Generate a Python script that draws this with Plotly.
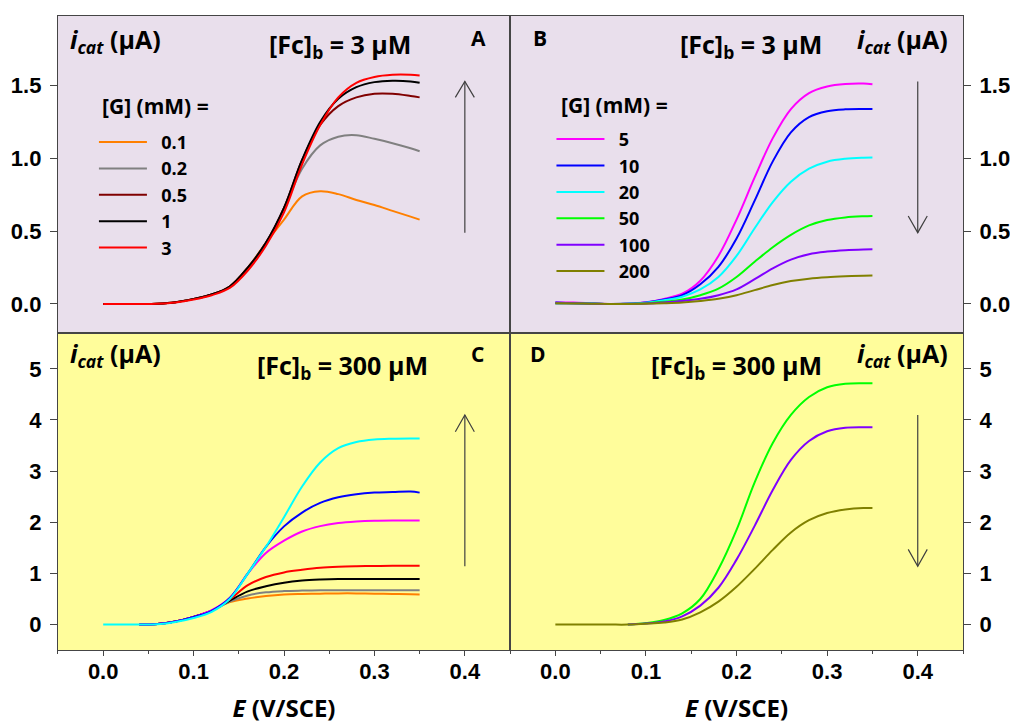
import plotly.graph_objects as go

# ---------------- data ----------------
E = [0.00, 0.02, 0.04, 0.06, 0.08, 0.10, 0.12, 0.14, 0.16, 0.18,
     0.20, 0.22, 0.24, 0.26, 0.28, 0.30, 0.32, 0.34, 0.35]

# Panel A : [Fc]b = 3 uM, [G] = 0.1 ... 3 mM
A_names = ["0.1", "0.2", "0.5", "1", "3"]
A_01 = [0, 0, 0, 0.002, 0.012, 0.035, 0.065, 0.12, 0.25, 0.42, 0.58, 0.74, 0.775, 0.755, 0.715, 0.68, 0.64, 0.60, 0.58]
A_02 = [0, 0, 0, 0.002, 0.012, 0.035, 0.065, 0.12, 0.25, 0.42, 0.66, 0.93, 1.09, 1.15, 1.16, 1.135, 1.105, 1.07, 1.05]
A_05 = [0, 0, 0, 0.002, 0.012, 0.035, 0.065, 0.12, 0.25, 0.42, 0.66, 0.99, 1.23, 1.36, 1.42, 1.445, 1.445, 1.43, 1.42]
A_1 = [0, 0, 0, 0.002, 0.012, 0.035, 0.065, 0.12, 0.25, 0.42, 0.66, 0.99, 1.25, 1.41, 1.49, 1.525, 1.535, 1.53, 1.52]
A_3 = [0, 0, 0, 0.002, 0.010, 0.030, 0.060, 0.11, 0.23, 0.40, 0.63, 0.96, 1.23, 1.42, 1.52, 1.56, 1.575, 1.575, 1.57]
A_colors = ["#FF8000", "#808080", "#800000", "#000000", "#FF0000"]

# Panel B : [Fc]b = 3 uM, [G] = 5 ... 200 mM
B_names = ["5", "10", "20", "50", "100", "200"]
B_5 = [0.01, 0.01, 0.005, 0.0, 0.002, 0.012, 0.035, 0.07, 0.16, 0.33, 0.58, 0.87, 1.14, 1.34, 1.45, 1.495, 1.512, 1.515, 1.51]
B_10 = [0.01, 0.005, 0.003, 0.0, 0.002, 0.01, 0.03, 0.06, 0.135, 0.255, 0.45, 0.71, 0.98, 1.18, 1.285, 1.325, 1.338, 1.34, 1.34]
B_20 = [0.005, 0.005, 0.003, 0.0, 0.002, 0.008, 0.025, 0.05, 0.10, 0.185, 0.33, 0.52, 0.70, 0.84, 0.93, 0.978, 0.998, 1.005, 1.006]
B_50 = [0.005, 0.005, 0.002, 0.0, 0.001, 0.005, 0.015, 0.03, 0.06, 0.105, 0.185, 0.29, 0.39, 0.475, 0.54, 0.577, 0.595, 0.603, 0.605]
B_100 = [0.005, 0.005, 0.002, 0.0, 0.001, 0.003, 0.01, 0.02, 0.035, 0.06, 0.10, 0.17, 0.245, 0.305, 0.342, 0.36, 0.37, 0.375, 0.376]
B_200 = [0.005, 0.003, 0.002, 0.0, 0.0, 0.002, 0.005, 0.01, 0.02, 0.035, 0.06, 0.095, 0.13, 0.157, 0.174, 0.184, 0.19, 0.194, 0.195]
B_colors = ["#FF00FF", "#0000FF", "#00FFFF", "#00FF00", "#8000FF", "#808000"]

# Panel C : [Fc]b = 300 uM, [G] = 0.1 ... 20 mM
C_names = ["0.1", "0.2", "1", "3", "5", "10", "20"]
C_01 = [None, None, 0, 0.01, 0.06, 0.15, 0.27, 0.44, 0.51, 0.56, 0.59, 0.60, 0.605, 0.61, 0.61, 0.605, 0.60, 0.595, 0.59]
C_02 = [None, None, 0, 0.01, 0.06, 0.15, 0.27, 0.45, 0.57, 0.63, 0.655, 0.665, 0.67, 0.67, 0.67, 0.67, 0.67, 0.67, 0.67]
C_1 = [None, None, 0, 0.01, 0.06, 0.15, 0.27, 0.47, 0.65, 0.75, 0.82, 0.86, 0.88, 0.89, 0.89, 0.89, 0.89, 0.89, 0.89]
C_3 = [None, None, 0, 0.01, 0.06, 0.15, 0.27, 0.49, 0.77, 0.93, 1.02, 1.07, 1.11, 1.13, 1.14, 1.145, 1.15, 1.15, 1.15]
C_5 = [None, None, 0, 0.01, 0.06, 0.15, 0.28, 0.52, 1.0, 1.40, 1.64, 1.82, 1.925, 1.985, 2.015, 2.03, 2.035, 2.035, 2.035]
C_10 = [None, None, 0, 0.01, 0.06, 0.15, 0.27, 0.52, 1.0, 1.52, 1.92, 2.19, 2.38, 2.49, 2.55, 2.58, 2.59, 2.60, 2.58]
C_20 = [0, 0, 0, 0.005, 0.05, 0.13, 0.25, 0.50, 1.0, 1.52, 2.10, 2.70, 3.17, 3.45, 3.57, 3.62, 3.635, 3.64, 3.64]
C_colors = ["#FF8000", "#808080", "#000000", "#FF0000", "#FF00FF", "#0000FF", "#00FFFF"]

# Panel D : [Fc]b = 300 uM, [G] = 50 ... 200 mM
D_names = ["50", "100", "200"]
D_50 = [None, None, None, None, 0, 0.03, 0.09, 0.22, 0.50, 1.08, 1.85, 2.78, 3.55, 4.10, 4.45, 4.64, 4.71, 4.72, 4.72]
D_100 = [None, None, None, None, 0, 0.02, 0.06, 0.16, 0.37, 0.72, 1.27, 1.93, 2.63, 3.22, 3.59, 3.78, 3.85, 3.86, 3.86]
D_200 = [0, 0, 0, 0, 0, 0.015, 0.04, 0.10, 0.24, 0.45, 0.74, 1.09, 1.46, 1.80, 2.04, 2.18, 2.25, 2.28, 2.28]
D_colors = ["#00FF00", "#8000FF", "#808000"]

X_RANGE = [-0.05, 0.45]
X_TICKS = [0.0, 0.1, 0.2, 0.3, 0.4]
Y_RANGE_TOP = [-0.2, 1.98]
Y_TICKS_TOP = [0.0, 0.5, 1.0, 1.5]
Y_RANGE_BOT = [-0.5, 5.7]
Y_TICKS_BOT = [0, 1, 2, 3, 4, 5]

# ---------------- figure ----------------
fig = go.Figure()
PAD = "\u00a0\u00a0"  # gap between legend line sample and its label

def add_set(names, series, colors, xa, ya, legend=None):
    for n, s, c in zip(names, series, colors):
        fig.add_trace(go.Scatter(
            x=E, y=s, name=PAD + n if legend else n, mode="lines",
            line=dict(color=c, width=2, shape="spline", smoothing=1.0),
            xaxis=xa, yaxis=ya,
            showlegend=legend is not None,
            legend=legend if legend else "legend",
            legendgroup=(legend or "") + n,
        ))

add_set(A_names, [A_01, A_02, A_05, A_1, A_3], A_colors, "x", "y", "legend")
add_set(B_names, [B_5, B_10, B_20, B_50, B_100, B_200], B_colors, "x2", "y2", "legend2")
add_set(C_names, [C_01, C_02, C_1, C_3, C_5, C_10, C_20], C_colors, "x3", "y3")
add_set(D_names, [D_50, D_100, D_200], D_colors, "x4", "y4")

FRAME = "#454545"
TICKFONT = dict(family="Liberation Sans", size=22, color="black", weight="bold")
TXT = "Open Sans"

def xax(domain, anchor, labels):
    d = dict(domain=domain, anchor=anchor, range=X_RANGE, showgrid=False, zeroline=False,
             showline=True, mirror=True, linecolor=FRAME, linewidth=1.3, automargin=False)
    if labels:
        d.update(tickvals=X_TICKS, tickformat=".1f", ticks="outside", ticklen=5, tickwidth=1,
                 tickcolor=FRAME, tickfont=TICKFONT, ticklabelstandoff=-4,
                 minor=dict(ticks="outside", ticklen=3, dtick=0.05, tick0=0, tickcolor=FRAME),
                 title=dict(text="<i>E</i> (V/SCE)", standoff=31,
                            font=dict(family=TXT, size=24, color="black", weight="bold")))
    else:
        d.update(showticklabels=False, ticks="")
    return d

def yax(domain, anchor, side, rng, tv, fmt):
    return dict(domain=domain, anchor=anchor, side=side, range=rng, tickvals=tv, tickformat=fmt,
                showgrid=False, zeroline=False, showline=True, mirror=True, automargin=False,
                linecolor=FRAME, linewidth=1.3, ticks="outside", ticklen=7, tickwidth=1,
                tickcolor=FRAME, tickfont=TICKFONT, ticklabelstandoff=4)

XL = [0.0574, 0.505]
XR = [0.505, 0.9535]
YT = [0.540, 0.978]
YB = [0.102, 0.540]

LEG_COMMON = dict(xanchor="left", yanchor="top", bgcolor="rgba(0,0,0,0)",
                  traceorder="grouped", tracegroupgap=0, itemwidth=48,
                  font=dict(family=TXT, size=18, color="black", weight="bold"))

fig.update_layout(
    width=1010, height=724,
    margin=dict(l=0, r=0, t=0, b=0, autoexpand=False),
    paper_bgcolor="white", plot_bgcolor="white",
    xaxis=xax(XL, "y", False),
    xaxis2=xax(XR, "y2", False),
    xaxis3=xax(XL, "y3", True),
    xaxis4=xax(XR, "y4", True),
    yaxis=yax(YT, "x", "left", Y_RANGE_TOP, Y_TICKS_TOP, ".1f"),
    yaxis2=yax(YT, "x2", "right", Y_RANGE_TOP, Y_TICKS_TOP, ".1f"),
    yaxis3=yax(YB, "x3", "left", Y_RANGE_BOT, Y_TICKS_BOT, "d"),
    yaxis4=yax(YB, "x4", "right", Y_RANGE_BOT, Y_TICKS_BOT, "d"),
    legend=dict(x=0.093, y=0.829, **LEG_COMMON),
    legend2=dict(x=0.546, y=0.833, **LEG_COMMON),
)

# panel backgrounds
for xr, yr, col in [("x", "y", "#E9DFEC"), ("x2", "y2", "#E9DFEC"),
                    ("x3", "y3", "#FFFD9B"), ("x4", "y4", "#FFFD9B")]:
    fig.add_shape(type="rect", xref=xr + " domain", yref=yr + " domain", x0=0, x1=1, y0=0, y1=1,
                  fillcolor=col, line=dict(width=0), layer="below")

# arrows (shaft + open V head), in data units of each panel
ARROWS = [  # xref, yref, x, y_tail, y_tip, head_dy, head_dx
    ("x", "y", 0.4, 0.49, 1.53, 0.11, 0.0105),
    ("x2", "y2", 0.4, 1.53, 0.49, 0.115, 0.0105),
    ("x3", "y3", 0.4, 1.14, 4.10, 0.33, 0.0105),
    ("x4", "y4", 0.4, 4.10, 1.14, 0.33, 0.0105),
]
for xr, yr, x, yt, yp, hdy, hdx in ARROWS:
    sgn = 1 if yp > yt else -1
    fig.add_shape(type="line", xref=xr, yref=yr, x0=x, x1=x, y0=yt, y1=yp,
                  line=dict(color="#404040", width=1.2))
    fig.add_shape(type="path", xref=xr, yref=yr,
                  path=f"M {x - hdx},{yp - sgn * hdy} L {x},{yp} L {x + hdx},{yp - sgn * hdy}",
                  line=dict(color="#404040", width=1.2))

ICAT = "<i>i</i><sub><i>cat</i></sub> (μA)"
def note(text, x, y, xanchor="center", size=25):
    fig.add_annotation(text=text, x=x, y=y, xref="paper", yref="paper", xanchor=xanchor,
                       yanchor="middle", showarrow=False,
                       font=dict(family=TXT, size=size, color="black", weight="bold"))

note(ICAT, 0.0675, 0.944, "left")
note("[Fc]<sub>b</sub> = 3 μM", 0.3366, 0.937)
note("A", 0.4733, 0.947, size=21)
note("B", 0.5347, 0.948, size=21)
note("[Fc]<sub>b</sub> = 3 μM", 0.7436, 0.937)
note(ICAT, 0.9406, 0.944, "right")
note(ICAT, 0.0675, 0.511, "left")
note("[Fc]<sub>b</sub> = 300 μM", 0.339, 0.494)
note("C", 0.4723, 0.511, size=21)
note("D", 0.533, 0.511, size=21)
note("[Fc]<sub>b</sub> = 300 μM", 0.729, 0.494)
note(ICAT, 0.9406, 0.511, "right")
# legend headings
note("[G] (mM) =", 0.099, 0.854, "left", size=21)
note("[G] (mM) =", 0.5535, 0.855, "left", size=21)

# remove the page's default 8px body margin so the 1010x724 figure fills the window
fig.write_html("out.html", config={"displayModeBar": False},
               post_script="document.body.style.margin='0px';")
